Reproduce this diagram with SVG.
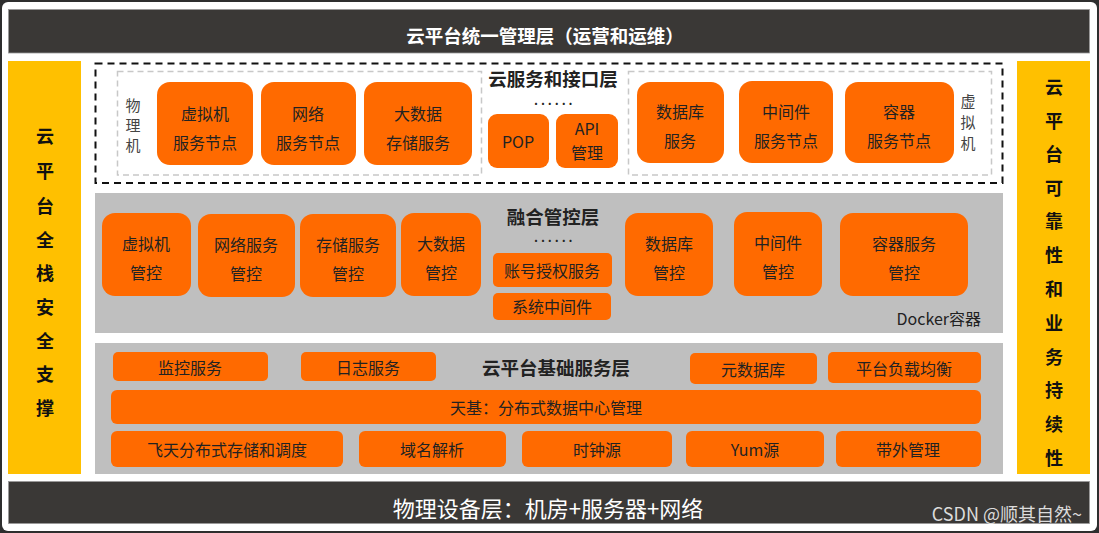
<svg xmlns="http://www.w3.org/2000/svg" width="1099" height="533" viewBox="0 0 1099 533">
<style>
text{font-family:"Noto Sans CJK SC","Noto Sans",sans-serif;}
.bar{fill:#3a3836;stroke:#9a9a9a;stroke-width:0.8;}
.yel{fill:#FFC000;}
.yt{font-size:18px;font-weight:bold;fill:#111;text-anchor:middle;dominant-baseline:central;}
.layer{fill:#BFBFBF;}
.nd{fill:#FF6A00;}
.t{font-size:16px;fill:#222;text-anchor:middle;dominant-baseline:central;}
.lt{font-size:18.5px;font-weight:bold;fill:#222;text-anchor:middle;dominant-baseline:central;}
.dots{font-size:10px;font-weight:900;fill:#222;text-anchor:middle;letter-spacing:3.4px;}
.vt{font-size:15px;fill:#444;text-anchor:middle;dominant-baseline:central;}
</style>
<rect x="0" y="0" width="1099" height="533" fill="#2e2e2e"/>
<rect x="2" y="2" width="1095" height="529" rx="6" fill="#ffffff"/>

<g id="top-bar">
<rect class="bar" x="8.5" y="9.5" width="1081" height="43.5"/>
<text x="545" y="35" font-size="18.5" font-weight="bold" fill="#fff" text-anchor="middle" dominant-baseline="central">云平台统一管理层（运营和运维）</text>
</g>

<g id="bottom-bar">
<rect class="bar" x="8.5" y="481.5" width="1081" height="42"/>
<text x="548" y="507" font-size="22" fill="#fff" text-anchor="middle" dominant-baseline="central">物理设备层：机房+服务器+网络</text>
<text x="1082" y="513" font-size="18" fill="#dcdcdc" text-anchor="end" dominant-baseline="central">CSDN @顺其自然~</text>
</g>

<g id="left-security">
<rect class="yel" x="8" y="61" width="73" height="413"/>
<text class="yt" x="45" y="135">云</text>
<text class="yt" x="45" y="170">平</text>
<text class="yt" x="45" y="205">台</text>
<text class="yt" x="45" y="239">全</text>
<text class="yt" x="45" y="272">栈</text>
<text class="yt" x="45" y="306">安</text>
<text class="yt" x="45" y="340">全</text>
<text class="yt" x="45" y="373">支</text>
<text class="yt" x="45" y="407">撑</text>
</g>

<g id="right-reliability">
<rect class="yel" x="1017" y="61" width="73" height="413"/>
<text class="yt" x="1054" y="86">云</text>
<text class="yt" x="1054" y="120">平</text>
<text class="yt" x="1054" y="153">台</text>
<text class="yt" x="1054" y="187">可</text>
<text class="yt" x="1054" y="220">靠</text>
<text class="yt" x="1054" y="254">性</text>
<text class="yt" x="1054" y="288">和</text>
<text class="yt" x="1054" y="322">业</text>
<text class="yt" x="1054" y="356">务</text>
<text class="yt" x="1054" y="389">持</text>
<text class="yt" x="1054" y="423">续</text>
<text class="yt" x="1054" y="457">性</text>
</g>

<g id="layer-cloud-service">
<rect x="95.5" y="63.5" width="907" height="119.5" fill="none" stroke="#111" stroke-width="2" stroke-dasharray="7,5"/>
<rect x="117.5" y="71.5" width="364" height="103.5" fill="none" stroke="#c8c8c8" stroke-width="1.5" stroke-dasharray="6,4"/>
<rect x="628.5" y="71.5" width="363" height="103.5" fill="none" stroke="#c8c8c8" stroke-width="1.5" stroke-dasharray="6,4"/>
<text class="vt" x="133" y="104">物</text>
<text class="vt" x="133" y="124">理</text>
<text class="vt" x="133" y="144">机</text>
<text class="vt" x="968" y="100">虚</text>
<text class="vt" x="968" y="121">拟</text>
<text class="vt" x="968" y="142">机</text>
<text class="lt" x="553" y="78">云服务和接口层</text>
<text class="dots" x="555" y="105">......</text>
</g>
<g id="n-vm-node"><rect class="nd" x="157" y="82" width="96" height="83" rx="13"/><text class="t" x="205" y="113">虚拟机</text><text class="t" x="205" y="142">服务节点</text></g>
<g id="n-net-node"><rect class="nd" x="261" y="82" width="95" height="83" rx="13"/><text class="t" x="308" y="113">网络</text><text class="t" x="308" y="142">服务节点</text></g>
<g id="n-bigdata-storage"><rect class="nd" x="364" y="82" width="108" height="83" rx="13"/><text class="t" x="418" y="113">大数据</text><text class="t" x="418" y="142">存储服务</text></g>
<g id="n-pop"><rect class="nd" x="488" y="114" width="61" height="54" rx="9"/><text class="t" x="518" y="141">POP</text></g>
<g id="n-api"><rect class="nd" x="556" y="114" width="62" height="54" rx="9"/><text class="t" x="587" y="128" font-size="15">API</text><text class="t" x="587" y="152" font-size="15">管理</text></g>
<g id="n-db-service"><rect class="nd" x="637" y="82" width="87" height="81" rx="13"/><text class="t" x="680" y="111">数据库</text><text class="t" x="680" y="140">服务</text></g>
<g id="n-mw-node"><rect class="nd" x="739" y="81" width="94" height="82" rx="13"/><text class="t" x="786" y="111">中间件</text><text class="t" x="786" y="140">服务节点</text></g>
<g id="n-container-node"><rect class="nd" x="845" y="82" width="109" height="81" rx="13"/><text class="t" x="899" y="111">容器</text><text class="t" x="899" y="140">服务节点</text></g>

<g id="layer-fusion">
<rect class="layer" x="95" y="193" width="908" height="140"/>
<text class="lt" x="553" y="216">融合管控层</text>
<text class="dots" x="555" y="242">......</text>
<text x="981" y="318" font-size="16" fill="#222" text-anchor="end" dominant-baseline="central">Docker容器</text>
</g>
<g id="n-vm-ctl"><rect class="nd" x="102" y="213" width="89" height="83" rx="13"/><text class="t" x="146" y="243">虚拟机</text><text class="t" x="146" y="272">管控</text></g>
<g id="n-net-ctl"><rect class="nd" x="198" y="214" width="97" height="83" rx="13"/><text class="t" x="246" y="244">网络服务</text><text class="t" x="246" y="273">管控</text></g>
<g id="n-storage-ctl"><rect class="nd" x="300" y="214" width="96" height="83" rx="13"/><text class="t" x="348" y="244">存储服务</text><text class="t" x="348" y="273">管控</text></g>
<g id="n-bigdata-ctl"><rect class="nd" x="401" y="213" width="80" height="83" rx="13"/><text class="t" x="441" y="243">大数据</text><text class="t" x="441" y="272">管控</text></g>
<g id="n-account"><rect class="nd" x="493" y="253" width="119" height="34" rx="5"/><text class="t" x="552" y="270">账号授权服务</text></g>
<g id="n-sys-mw"><rect class="nd" x="493" y="293" width="118" height="27" rx="5"/><text class="t" x="552" y="306">系统中间件</text></g>
<g id="n-db-ctl"><rect class="nd" x="625" y="213" width="88" height="83" rx="13"/><text class="t" x="669" y="243">数据库</text><text class="t" x="669" y="272">管控</text></g>
<g id="n-mw-ctl"><rect class="nd" x="734" y="212" width="88" height="84" rx="13"/><text class="t" x="778" y="242">中间件</text><text class="t" x="778" y="271">管控</text></g>
<g id="n-container-ctl"><rect class="nd" x="840" y="213" width="128" height="83" rx="13"/><text class="t" x="904" y="243">容器服务</text><text class="t" x="904" y="272">管控</text></g>

<g id="layer-base">
<rect class="layer" x="95" y="343" width="908" height="131"/>
<text class="lt" x="556" y="367">云平台基础服务层</text>
</g>
<g id="n-monitor"><rect class="nd" x="113" y="352" width="155" height="29" rx="5"/><text class="t" x="190" y="367">监控服务</text></g>
<g id="n-log"><rect class="nd" x="301" y="352" width="135" height="29" rx="5"/><text class="t" x="368" y="367">日志服务</text></g>
<g id="n-metadb"><rect class="nd" x="690" y="353" width="127" height="31" rx="5"/><text class="t" x="753" y="369">元数据库</text></g>
<g id="n-lb"><rect class="nd" x="828" y="352" width="153" height="31" rx="5"/><text class="t" x="904" y="368">平台负载均衡</text></g>
<g id="n-tianji"><rect class="nd" x="111" y="390" width="870" height="34" rx="6"/><text class="t" x="546" y="407">天基：分布式数据中心管理</text></g>
<g id="n-feitian"><rect class="nd" x="111" y="431" width="232" height="36" rx="6"/><text class="t" x="227" y="449">飞天分布式存储和调度</text></g>
<g id="n-dns"><rect class="nd" x="359" y="431" width="147" height="36" rx="6"/><text class="t" x="432" y="449">域名解析</text></g>
<g id="n-clock"><rect class="nd" x="522" y="431" width="150" height="36" rx="6"/><text class="t" x="597" y="449">时钟源</text></g>
<g id="n-yum"><rect class="nd" x="686" y="431" width="138" height="36" rx="6"/><text class="t" x="755" y="449">Yum源</text></g>
<g id="n-oob"><rect class="nd" x="836" y="431" width="145" height="36" rx="6"/><text class="t" x="908" y="449">带外管理</text></g>

<g id="connectors"></g>
</svg>
